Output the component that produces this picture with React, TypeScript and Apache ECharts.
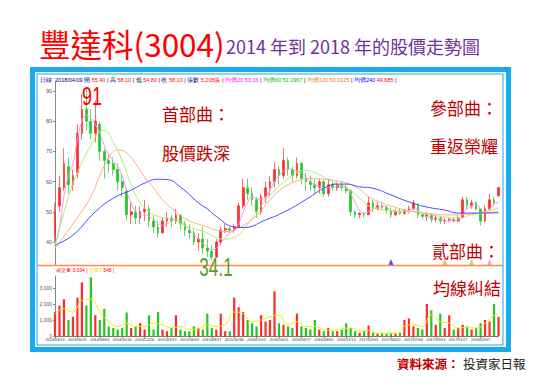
import React, { useEffect, useRef } from "react";
import * as echarts from "echarts";

// x-axis tick labels (every 5th point)
const dateLabels = [
  "2014/03/13", "2014/05/21", "2014/08/04", "2014/10/16", "2014/12/26",
  "2015/03/19", "2015/06/03", "2015/08/17", "2015/10/30", "2016/01/12",
  "2016/04/01", "2016/06/17", "2016/08/30", "2016/11/13", "2017/02/03",
  "2017/04/20", "2017/07/04", "2017/09/13", "2017/11/27", "2018/02/07",
];

// [open, close, low, high]
const ohlc: number[][] = [
  [42, 50, 40, 53], [52, 58, 50, 62], [58, 66, 57, 71], [65, 59, 56, 68], [59, 62, 57, 64],
  [63, 76, 61, 79], [76, 84, 74, 89], [84, 80, 77, 91], [80, 76, 74, 84], [76, 80, 73, 87],
  [79, 70, 67, 80], [70, 67, 61, 71], [67, 66, 63, 69], [66, 64, 62, 68], [64, 60, 57, 66],
  [60, 58, 55, 63], [57, 49, 47, 58], [49, 50, 46, 53], [50, 48, 46, 52], [48, 50, 46, 52],
  [50, 51, 47, 54], [51, 47, 45, 52], [47, 45, 43, 49], [45, 43, 41.5, 47], [43, 47, 43, 48],
  [47, 48, 45, 50], [48, 47, 45, 49], [47, 49, 46, 51], [49, 46, 44, 49], [46, 44, 42, 47],
  [44, 43, 41, 46], [43, 40, 39, 44], [40, 41, 37, 43], [41, 38, 36, 45], [38, 37, 35, 41],
  [37, 35, 34.1, 39], [35, 40, 35, 41], [40, 44, 39, 45], [44, 44.5, 43, 46], [44.5, 44, 43, 45],
  [44, 45, 43, 46], [45, 52, 45, 53], [52, 58, 51, 61], [58, 56, 54, 61], [56, 54, 52, 58],
  [54, 50, 48, 55], [50, 55, 49, 56], [55, 58, 53, 60], [58, 60, 55, 62], [60, 64, 58, 66.5],
  [64, 62, 59, 65], [62, 67, 61, 71], [67, 64, 62, 68], [64, 62, 60, 65], [62, 66, 61, 68],
  [66, 61, 59, 66.5], [61, 60, 57, 63], [60, 59, 57, 62], [59, 58, 56, 61], [58, 60, 56, 61],
  [60, 56, 55, 60.5], [56, 59, 55, 61], [59, 58, 57, 60], [58, 59, 57, 60], [59, 58, 57, 60],
  [58, 57, 56, 59], [57, 50, 48.5, 57.5], [50, 49, 48, 50.5], [49, 49.5, 48, 50], [49.5, 49, 48, 50],
  [49, 53, 49, 55], [53, 51, 50, 54], [51, 52, 50.5, 53.5], [52, 51.5, 50.5, 53], [51.5, 50.5, 49.5, 52],
  [50.5, 49, 48, 51.5], [49, 50, 48.5, 51], [50, 49.5, 49, 51], [49.5, 50.5, 49, 51], [50.5, 51, 49.5, 52],
  [51, 53, 50.5, 54], [52, 49, 48, 53], [49, 48.5, 47.5, 50], [48.5, 49, 47, 50], [49, 47.5, 46.5, 49.5],
  [47.5, 48, 46.5, 49], [48, 47, 46, 48.5], [47, 47.2, 46, 48], [47.2, 47.5, 46.5, 48], [47.5, 47, 46.5, 48],
  [47, 48, 46.5, 49], [48, 54, 48, 55], [54, 52, 51, 55], [52, 53, 51, 54], [53, 51, 50.5, 53.5],
  [51, 47, 45.5, 51], [47, 51, 46.5, 52], [51, 54, 50.5, 56], [54, 53, 52, 55], [55.4, 58.1, 54.8, 58.1],
];

const volumes = [
  1500, 1900, 2300, 1000, 1200, 2400, 3350, 1900, 3670, 1300,
  1000, 1700, 600, 500, 400, 500, 1470, 500, 600, 800,
  400, 1300, 400, 1500, 400, 300, 500, 1300, 400, 300,
  300, 600, 500, 400, 1400, 500, 400, 1400, 300, 300,
  2400, 1800, 1500, 1000, 800, 600, 1300, 900, 1000, 2800,
  800, 700, 600, 500, 1400, 600, 500, 400, 1000, 400,
  300, 500, 300, 300, 400, 800, 500, 300, 200, 300,
  650, 200, 150, 200, 150, 200, 150, 200, 1000, 1100,
  600, 500, 400, 2000, 1600, 700, 1400, 500, 1300, 400,
  500, 700, 600, 400, 500, 800, 1000, 900, 2000, 1200,
];

const ma20 = [
  39, 45, 55, 62, 66, 74, 80, 82, 81, 79,
  76, 72, 69, 67, 65, 62, 57, 53, 50, 49,
  49, 48.5, 47.5, 46, 45.5, 46, 47, 47.5, 47, 45.5,
  44, 42.5, 41, 39.5, 38.5, 37.5, 38, 39.5, 41.5, 43,
  44, 46, 50, 53, 55, 54.5, 54, 55, 57, 60,
  62, 63.5, 64.5, 64, 63.5, 63, 61.5, 60, 59, 58.5,
  58, 58, 58, 58.5, 58.5, 58, 56, 53, 50.5, 49.5,
  50, 51, 51.5, 52, 51.5, 50.5, 50, 50, 50, 50.5,
  51, 50.5, 49.5, 48.5, 48, 47.5, 47.5, 47, 47, 47,
  47.5, 49, 51, 52, 52.5, 51, 50, 51, 52.5, 53.2,
];

const ma60: number[][] = [
  [0, 38.5], [3, 55], [5, 63], [8, 72], [10, 76.5], [11, 77], [13, 73], [15, 67], [17, 59], [19, 53],
  [21, 50], [23, 48.5], [26, 47.5], [29, 45.5], [32, 44], [34, 43], [36, 41.5], [38, 41], [40, 41.5],
  [42, 44], [44, 48], [46, 52], [48, 55.5], [50, 58.5], [52, 61], [54, 63], [56, 63.8], [58, 63],
  [60, 61.5], [62, 60], [64, 58.5], [66, 57], [68, 54.5], [70, 52], [72, 51], [75, 50.5], [78, 50.3],
  [81, 50], [84, 49], [87, 48.3], [90, 48], [93, 49], [96, 50], [99, 51.3],
];

const ma120: number[][] = [
  [0, 38], [4, 46], [8, 55], [10, 62], [12, 68], [13, 70], [14, 70.5], [16, 69.5], [18, 66], [20, 61.5],
  [22, 58], [24, 54], [27, 50], [30, 47], [33, 45.5], [36, 44], [38, 43.5], [40, 44], [42, 45.5],
  [44, 47.5], [46, 50.5], [48, 54], [50, 57], [52, 59], [54, 60.3], [56, 61], [58, 61], [60, 60.8],
  [62, 60.5], [64, 60], [66, 59], [68, 57.5], [70, 55], [73, 53], [76, 51.5], [80, 50], [84, 49.3],
  [88, 49], [92, 49.2], [96, 49.7], [99, 50],
];

const ma240: number[][] = [
  [0, 39], [4, 42.3], [9, 50], [13, 54.5], [17, 57.2], [20, 59.5], [23, 60.8], [25, 60.7], [28, 58.2],
  [32, 53], [34, 51], [36, 48.5], [40, 45], [42, 44.8], [47, 47.3], [52, 50.6], [57, 55], [60, 57.8],
  [63, 59.2], [65, 59.2], [68, 58.3], [71, 57.8], [75, 55.6], [79, 53.3], [83, 51.6], [87, 50.6],
  [90, 49.6], [94, 49.6], [99, 49.7],
];

const volMa: number[][] = [
  [0, 1400], [2, 1700], [4, 1500], [6, 2200], [8, 2300], [10, 1500], [12, 900], [14, 600], [16, 800],
  [18, 600], [20, 600], [22, 800], [24, 700], [26, 500], [28, 600], [30, 400], [32, 450], [34, 700],
  [36, 600], [38, 700], [40, 1500], [42, 1400], [44, 900], [46, 1000], [48, 1200], [50, 1300], [52, 700],
  [54, 900], [56, 600], [58, 600], [60, 400], [62, 350], [64, 450], [66, 500], [68, 300], [70, 350],
  [72, 180], [74, 170], [76, 180], [78, 600], [80, 700], [82, 600], [84, 1300], [86, 900], [88, 800],
  [90, 500], [92, 550], [94, 500], [96, 800], [98, 1300], [99, 1400],
];

// small MA markers near the bottom of the price pane: [index, price, color]
const markers: [number, number, string][] = [
  [75, 33.4, "#2020ff"], [87, 33.4, "#ff9a50"], [93, 33.4, "#88e030"], [97, 33.4, "#ff80f0"],
];

const UP = "#ff2a2a";
const DOWN = "#22c822";
const SMALL = '"Liberation Sans", "Noto Sans CJK TC", sans-serif';
const CJK = '"Noto Sans CJK TC", sans-serif';

export default function App() {
  const ref = useRef<HTMLDivElement>(null);
  useEffect(() => {
    const chart = echarts.init(ref.current!, null, { renderer: "svg" });
    const categories = ohlc.map((_, i) => String(i));
    const isUp = (i: number) => ohlc[i][1] >= ohlc[i][0];
    const left = 55;
    const right = 543 - 498.5;

    const info =
      "{b|日線}  {n|2018/04/09 開} {r|55.40} {n|| 高} {r|58.10} {n|| 低} {r|54.80} {n|| 收} {r|58.10} " +
      "{n|| 張數} {r|5,205張} {n||} {m|均價20 53.16} {n||} {g|均價60 51.2967} {n||} {o|均價120 50.0125} {n||} {u|均價240} {r|49.685} {n||}";
    const volInfo = "{r|成交量 3,034} {r||} {y|均量5} {r|548 |}";

    const option: any = {
      animation: false,
      backgroundColor: "#ffffff",
      grid: [
        { left, right, top: 82, height: 183 },
        { left, right, top: 276, height: 60 },
      ],
      xAxis: [
        {
          type: "category", gridIndex: 0, data: categories, boundaryGap: false,
          axisLine: { show: false }, axisTick: { show: false }, axisLabel: { show: false },
          splitLine: { show: false },
        },
        {
          type: "category", gridIndex: 1, data: categories, boundaryGap: false,
          axisLine: { show: true, lineStyle: { color: "#777", width: 1 } },
          axisTick: { show: true, interval: 4, length: 2, lineStyle: { color: "#777" } },
          axisLabel: {
            interval: 4, fontSize: 3.8, color: "#333", margin: 2, fontFamily: SMALL, hideOverlap: false,
            formatter: (v: string) => {
              const n = Number(v);
              return n % 5 === 0 ? dateLabels[n / 5] ?? "" : "";
            },
          },
          splitLine: { show: false },
        },
      ],
      yAxis: [
        {
          type: "value", gridIndex: 0, min: 32.4, max: 93, splitNumber: 5,
          axisLine: { show: true, lineStyle: { color: "#888" } },
          axisTick: { show: true, length: 2, lineStyle: { color: "#888" } },
          axisLabel: {
            fontSize: 5.5, color: "#555", margin: 3, fontFamily: SMALL,
            showMinLabel: false, showMaxLabel: false,
            formatter: (v: number) => (Math.abs(v % 10) < 1e-6 ? String(v) : ""),
          },
          splitLine: { show: false },
        },
        {
          type: "value", gridIndex: 1, min: 0, max: 3750, interval: 1000,
          axisLine: { show: true, lineStyle: { color: "#888" } },
          axisTick: { show: true, length: 2, lineStyle: { color: "#888" } },
          axisLabel: {
            fontSize: 5, color: "#555", margin: 3, fontFamily: SMALL, showMaxLabel: false,
            formatter: (v: number) => (v % 1000 === 0 ? v.toLocaleString("en-US") : ""),
          },
          splitLine: { show: false },
        },
      ],
      series: [
        {
          type: "candlestick", xAxisIndex: 0, yAxisIndex: 0, data: ohlc, barWidth: 2.2,
          itemStyle: { color: UP, color0: DOWN, borderColor: UP, borderColor0: DOWN, borderWidth: 0.7 },
        },
        {
          type: "line", xAxisIndex: 0, yAxisIndex: 0, data: ma20, smooth: true, symbol: "none", z: 3,
          lineStyle: { color: "#ff90f0", width: 1 },
        },
        {
          type: "line", xAxisIndex: 0, yAxisIndex: 0, data: ma60, smooth: true, symbol: "none", z: 3,
          lineStyle: { color: "#aaf070", width: 1 },
        },
        {
          type: "line", xAxisIndex: 0, yAxisIndex: 0, data: ma120, smooth: true, symbol: "none", z: 3,
          lineStyle: { color: "#ffab85", width: 1 },
        },
        {
          type: "line", xAxisIndex: 0, yAxisIndex: 0, data: ma240, smooth: true, symbol: "none", z: 3,
          lineStyle: { color: "#4a4aff", width: 1 },
        },
        {
          type: "scatter", xAxisIndex: 0, yAxisIndex: 0, symbol: "triangle", symbolSize: [5, 6], z: 4,
          data: markers.map((m) => ({ value: [m[0], m[1]], itemStyle: { color: m[2] } })),
        },
        {
          type: "bar", xAxisIndex: 1, yAxisIndex: 1, barWidth: 2.2,
          data: volumes.map((v, i) => ({ value: v, itemStyle: { color: isUp(i) ? UP : DOWN } })),
        },
        {
          type: "line", xAxisIndex: 1, yAxisIndex: 1, data: volMa, smooth: true, symbol: "none", z: 3,
          lineStyle: { color: "#f0f000", width: 1 },
        },
      ],
      graphic: [
        // frame
        { type: "rect", shape: { x: 32.5, y: 69.5, width: 476, height: 280 }, style: { fill: "none", stroke: "#19a9ee", lineWidth: 5 }, z: 10 },
        { type: "rect", shape: { x: 37, y: 74, width: 466, height: 271 }, style: { fill: "none", stroke: "#19a9ee", lineWidth: 1 }, z: 10 },
        { type: "line", shape: { x1: 37, y1: 265.5, x2: 503, y2: 265.5 }, style: { stroke: "#ff8c40", lineWidth: 1.5 }, z: 10 },
        // title
        { type: "text", x: 39, y: 43, style: { text: "豐達科(3004)", fontSize: 31.5, fontFamily: CJK, fill: "#ff0000", verticalAlign: "middle" } },
        { type: "text", x: 226, y: 46, style: { text: "2014 年到 2018 年的股價走勢圖", fontSize: 18, fontFamily: CJK, fill: "#7030a0", verticalAlign: "middle" } },
        // info lines
        {
          type: "text", x: 40, y: 80, z: 11,
          style: {
            text: info, fontSize: 5.5, fontFamily: SMALL, verticalAlign: "middle",
            rich: {
              b: { fill: "#0000cc", fontSize: 5.5 }, n: { fill: "#000080", fontSize: 5.5 }, r: { fill: "#ff0000", fontSize: 5.5 },
              m: { fill: "#ff00ff", fontSize: 5.5 }, g: { fill: "#00bb00", fontSize: 5.5 }, o: { fill: "#ff7000", fontSize: 5.5 },
              u: { fill: "#0000ff", fontSize: 5.5 },
            },
          },
        },
        {
          type: "text", x: 56, y: 270, z: 11,
          style: {
            text: volInfo, fontSize: 5, fontFamily: SMALL, verticalAlign: "middle",
            rich: { r: { fill: "#ff0000", fontSize: 5 }, y: { fill: "#e0e000", fontSize: 5 } },
          },
        },
        // annotations
        { type: "text", x: 92, y: 96, scaleX: 0.72, z: 12, style: { text: "91", fontSize: 25, fontFamily: SMALL, fill: "#ff0000", align: "center", verticalAlign: "middle" } },
        { type: "text", x: 216, y: 267, scaleX: 0.66, z: 12, style: { text: "34.1", fontSize: 26, fontFamily: SMALL, fill: "#5e9a2e", align: "center", verticalAlign: "middle" } },
        { type: "text", x: 162, y: 113, z: 12, style: { text: "首部曲：", fontSize: 17, fontFamily: CJK, fill: "#c00000", verticalAlign: "middle" } },
        { type: "text", x: 162, y: 152, z: 12, style: { text: "股價跌深", fontSize: 17, fontFamily: CJK, fill: "#c00000", verticalAlign: "middle" } },
        { type: "text", x: 430, y: 107, z: 12, style: { text: "參部曲：", fontSize: 17, fontFamily: CJK, fill: "#c00000", verticalAlign: "middle" } },
        { type: "text", x: 430, y: 145, z: 12, style: { text: "重返榮耀", fontSize: 17, fontFamily: CJK, fill: "#c00000", verticalAlign: "middle" } },
        { type: "text", x: 432, y: 250, z: 12, style: { text: "貳部曲：", fontSize: 17, fontFamily: CJK, fill: "#c00000", verticalAlign: "middle" } },
        { type: "text", x: 433, y: 287, z: 12, style: { text: "均線糾結", fontSize: 17, fontFamily: CJK, fill: "#c00000", verticalAlign: "middle" } },
        // source
        { type: "text", x: 397, y: 363, style: { text: "資料來源：", fontSize: 12.5, fontWeight: "bold", fontFamily: CJK, fill: "#c00000", verticalAlign: "middle" } },
        { type: "text", x: 463, y: 363, style: { text: "投資家日報", fontSize: 12.5, fontFamily: CJK, fill: "#222222", verticalAlign: "middle" } },
      ],
    };
    chart.setOption(option);
    return () => chart.dispose();
  }, []);
  return (
    <div
      ref={ref}
      style={{ position: "absolute", left: 0, top: 0, width: 543, height: 388, background: "#fff" }}
    />
  );
}
